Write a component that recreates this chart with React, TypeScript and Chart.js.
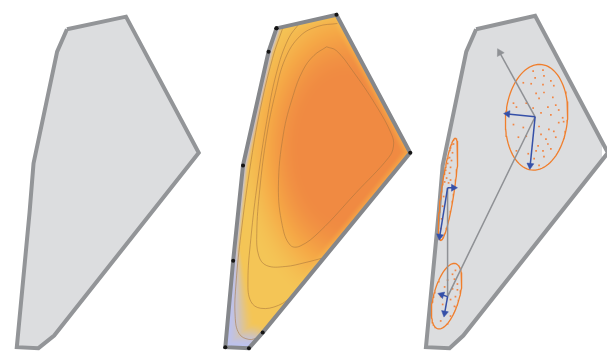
import React, { useEffect, useRef } from "react";
import { Chart, registerables } from "chart.js";

Chart.register(...registerables);

type Pt = [number, number];

// Region outline, shown three times (plain, with density, with clusters)
const outlinePlain: Pt[] = [[63, 25], [123, 12], [197, 152], [50, 340], [34, 353], [12, 352], [25, 213], [29, 163], [53, 48]];
const outlineDensity: Pt[] = [[276, 24], [337, 10], [412, 152], [262, 337], [248, 353], [224, 352], [232, 263], [242, 165], [268, 48]];
const outlineClusters: Pt[] = [[479, 25], [539, 11], [613, 152], [466, 340], [452, 353], [428, 352], [441, 213], [445, 165], [469, 48]];

// Left boundary of the density panel (where the density falls to zero)
const densityLowEdge: Pt[] = [[276, 24], [268, 48], [242, 165], [232, 263], [224, 352], [248, 353]];
// Upper and right boundary, where the density stays moderate
const densityRimEdge: Pt[] = [[276, 24], [337, 10], [412, 152], [262, 337], [248, 353]];
const densityPeak: Pt = [348, 148];
const densitySpread: Pt = [118, 178];

// Density contour lines
const contourInner: Pt[] = [[327, 43], [314, 52], [303, 67], [293, 93], [283, 133], [278, 187], [282, 227], [290, 247], [300, 248], [320, 233], [357, 193], [390, 157], [395, 145], [393, 133], [377, 103], [353, 67], [337, 47], [327, 43]];
const contourSecond: Pt[] = [[338, 19], [318, 22], [300, 32], [285, 55], [275, 90], [266, 135], [259, 190], [256, 235], [258, 258], [266, 268], [285, 269], [305, 265], [324, 260]];
const contourThird: Pt[] = [[300, 18], [288, 35], [276, 70], [266, 120], [257, 180], [250, 240], [247, 285], [250, 305], [260, 312], [278, 309], [293, 299]];
const contourOuter: Pt[] = [[283, 22], [272, 55], [258, 115], [248, 175], [240, 235], [235, 285], [234, 320], [238, 338], [248, 344], [258, 342]];

// Clusters: centers, semi-axes and tilt
const clusterCenters: Pt[] = [[540.5, 115.5], [450.5, 189.5], [449, 299.5]];
const clusterAxes: Pt[] = [[31.5, 54.5], [6.5, 53], [13, 34.7]];
const clusterTilts: number[] = [4.7, 8.1, 15];

// Sample points in each cluster
const samplesTop: Pt[] = [[537, 68], [547, 67], [539, 75], [548, 73], [527, 80], [535, 81], [547, 82], [555, 78], [558, 83], [540, 91], [548, 90], [557, 95], [543, 96], [530, 101], [517, 101], [520, 105], [537, 106], [552, 105], [560, 103], [563, 108], [545, 111], [555, 113], [567, 116], [517, 123], [527, 126], [543, 125], [563, 121], [568, 120], [553, 128], [558, 130], [522, 136], [530, 135], [545, 133], [550, 138], [560, 136], [542, 145], [552, 143], [540, 150], [547, 150], [555, 148], [520, 150], [532, 153], [538, 158], [548, 156], [543, 165]];
const samplesMiddle: Pt[] = [[456, 143], [453, 147], [455, 152], [452, 157], [454, 160], [450, 163], [453, 167], [448, 170], [452, 173], [449, 178], [453, 180], [447, 182], [451, 183], [446, 197], [445, 207], [444, 220], [443, 230]];
const samplesBottom: Pt[] = [[458, 273], [455, 277], [457, 282], [450, 283], [460, 287], [447, 290], [455, 292], [460, 293], [443, 300], [458, 300], [453, 303], [445, 308], [457, 310], [448, 317], [453, 320], [443, 325], [450, 328]];

// Links between cluster centers and the main direction arrow
const centerLinks: Pt[] = [[539, 115], [450, 300], [450, 188]];
const mainDirection: Pt[] = [[539, 115], [503, 49]];

// Principal axes of each cluster
const axisArrows: Pt[][] = [
  [[539, 115], [511, 112]],
  [[539, 115], [534, 165]],
  [[450, 188], [442, 238]],
  [[450, 188], [456, 188]],
  [[450, 300], [447, 317]],
  [[450, 300], [444, 298]],
];

const toXY = (pts: Pt[]) => pts.map(([x, y]) => ({ x, y }));
const closed = (pts: Pt[]) => toXY([...pts, pts[0]]);

function ellipse(c: Pt, ax: Pt, tiltDeg: number) {
  const t = (tiltDeg * Math.PI) / 180;
  const out: { x: number; y: number }[] = [];
  for (let i = 0; i <= 90; i++) {
    const th = (2 * Math.PI * i) / 90;
    const ex = ax[0] * Math.cos(th);
    const ey = ax[1] * Math.sin(th);
    out.push({ x: c[0] + ex * Math.cos(t) - ey * Math.sin(t), y: c[1] + ex * Math.sin(t) + ey * Math.cos(t) });
  }
  return out;
}

function arrowDataset(seg: Pt[], color: string, width: number, head: number, order: number) {
  const [a, b] = seg;
  const ang = (Math.atan2(b[0] - a[0], -(b[1] - a[1])) * 180) / Math.PI;
  return {
    data: toXY(seg),
    showLine: true,
    borderColor: color,
    borderWidth: width,
    tension: 0,
    pointRadius: [0, head],
    pointStyle: "triangle",
    pointRotation: [0, ang],
    pointBackgroundColor: color,
    pointBorderColor: color,
    pointBorderWidth: 0.5,
    clip: false,
    order,
  };
}

function segDist(px: number, py: number, a: Pt, b: Pt) {
  const dx = b[0] - a[0];
  const dy = b[1] - a[1];
  let t = ((px - a[0]) * dx + (py - a[1]) * dy) / (dx * dx + dy * dy);
  t = Math.max(0, Math.min(1, t));
  const qx = a[0] + t * dx - px;
  const qy = a[1] + t * dy - py;
  return Math.sqrt(qx * qx + qy * qy);
}

function chainDist(x: number, y: number, chain: Pt[]) {
  let d = Infinity;
  for (let k = 0; k < chain.length - 1; k++) d = Math.min(d, segDist(x, y, chain[k], chain[k + 1]));
  return d;
}

function inside(px: number, py: number, poly: Pt[]) {
  let c = false;
  for (let i = 0, j = poly.length - 1; i < poly.length; j = i++) {
    const [xi, yi] = poly[i];
    const [xj, yj] = poly[j];
    if (yi > py !== yj > py && px < ((xj - xi) * (py - yi)) / (yj - yi) + xi) c = !c;
  }
  return c;
}

const smooth = (e0: number, e1: number, v: number) => {
  const t = Math.max(0, Math.min(1, (v - e0) / (e1 - e0)));
  return t * t * (3 - 2 * t);
};
const mix = (a: number[], b: number[], t: number) => a.map((v, i) => v + (b[i] - v) * t);

// Paints the density field inside the middle outline
const densityField = {
  id: "densityField",
  beforeDatasetsDraw(chart: any) {
    const { ctx, scales } = chart;
    const xs = scales.x;
    const ys = scales.y;
    const poly: Pt[] = outlineDensity.map(([x, y]) => [xs.getPixelForValue(x), ys.getPixelForValue(y)]);
    const minX = Math.floor(Math.min(...poly.map((p) => p[0])));
    const maxX = Math.ceil(Math.max(...poly.map((p) => p[0])));
    const minY = Math.floor(Math.min(...poly.map((p) => p[1])));
    const maxY = Math.ceil(Math.max(...poly.map((p) => p[1])));
    const w = maxX - minX + 1;
    const h = maxY - minY + 1;
    const off = document.createElement("canvas");
    off.width = w;
    off.height = h;
    const octx = off.getContext("2d")!;
    const img = octx.createImageData(w, h);
    const lav = [188, 194, 240];
    const yel = [244, 197, 86];
    const mid = [245, 168, 70];
    const org = [240, 138, 66];
    for (let j = 0; j < h; j++) {
      for (let i = 0; i < w; i++) {
        const px = minX + i + 0.5;
        const py = minY + j + 0.5;
        if (!inside(px, py, poly)) continue;
        const x = xs.getValueForPixel(px);
        const y = ys.getValueForPixel(py);
        const dL = chainDist(x, y, densityLowEdge);
        const dR = chainDist(x, y, densityRimEdge);
        const r = Math.hypot((x - densityPeak[0]) / densitySpread[0], (y - densityPeak[1]) / densitySpread[1]);
        const o = Math.max(0, 1 - r);
        let f = smooth(0.04, 0.6, o);
        f *= 0.55 + 0.45 * smooth(0, 9, dR);
        const base = f < 0.5 ? mix(yel, mid, f * 2) : mix(mid, org, (f - 0.5) * 2);
        const wid = 6.5 + Math.max(0, y - 250) * 0.28;
        const u = smooth(0, 1, dL / wid);
        const col = mix(lav, base, u);
        const idx = (j * w + i) * 4;
        img.data[idx] = col[0];
        img.data[idx + 1] = col[1];
        img.data[idx + 2] = col[2];
        img.data[idx + 3] = 255;
      }
    }
    octx.putImageData(img, 0, 0);
    ctx.save();
    ctx.drawImage(off, minX, minY);
    ctx.restore();
  },
};

export default function App() {
  const ref = useRef<HTMLCanvasElement | null>(null);

  useEffect(() => {
    if (!ref.current) return;
    const outlineStyle = {
      showLine: true,
      tension: 0,
      borderWidth: 4,
      borderJoinStyle: "miter" as const,
      pointRadius: 0,
      clip: false,
    };
    const contourStyle = {
      showLine: true,
      tension: 0.4,
      borderColor: "rgba(165,115,60,0.55)",
      borderWidth: 1,
      pointRadius: 0,
      order: 15,
    };
    const dotStyle = {
      showLine: false,
      pointRadius: 1.2,
      pointStyle: "rect",
      pointBackgroundColor: "rgba(242,128,58,0.95)",
      pointBorderWidth: 0,
      order: 8,
    };
    const datasets: any[] = [
      { ...outlineStyle, data: closed(outlinePlain), fill: "shape", backgroundColor: "#dcdddf", borderColor: "#939598", order: 30 },
      { ...outlineStyle, data: closed(outlineClusters), fill: "shape", backgroundColor: "#dcdddf", borderColor: "#939598", order: 30 },
      { ...contourStyle, data: toXY(contourInner) },
      { ...contourStyle, data: toXY(contourSecond) },
      { ...contourStyle, data: toXY(contourThird) },
      { ...contourStyle, data: toXY(contourOuter) },
      {
        ...outlineStyle,
        data: closed(outlineDensity),
        fill: false,
        borderColor: "#85878b",
        pointRadius: 2,
        pointStyle: "circle",
        pointBackgroundColor: "#151515",
        pointBorderWidth: 0,
        order: 12,
      },
      { showLine: true, tension: 0, data: toXY(centerLinks), borderColor: "#8f9195", borderWidth: 1.5, pointRadius: 0, order: 6 },
      arrowDataset(mainDirection, "#8f9195", 1.5, 4.5, 6),
      ...clusterCenters.map((c, i) => ({
        showLine: true,
        tension: 0,
        data: ellipse(c, clusterAxes[i], clusterTilts[i]),
        borderColor: "#f07e2c",
        borderWidth: 1.3,
        pointRadius: 0,
        order: 9,
      })),
      { ...dotStyle, data: toXY(samplesTop) },
      { ...dotStyle, data: toXY(samplesMiddle) },
      { ...dotStyle, data: toXY(samplesBottom) },
      ...axisArrows.map((seg) => arrowDataset(seg, "#3550a8", 1.5, 4, 2)),
    ];

    const chart = new Chart(ref.current, {
      type: "scatter",
      data: { datasets },
      options: {
        animation: false,
        responsive: false,
        maintainAspectRatio: false,
        events: [],
        layout: { padding: 0 },
        plugins: { legend: { display: false }, tooltip: { enabled: false } },
        scales: {
          x: { type: "linear", min: 0, max: 607, display: false },
          y: { type: "linear", min: 0, max: 359, reverse: true, display: false },
        },
      },
      plugins: [densityField],
    });
    return () => chart.destroy();
  }, []);

  return (
    <div style={{ position: "absolute", left: 0, top: 0, width: 607, height: 359, background: "#ffffff" }}>
      <canvas ref={ref} width={607} height={359} style={{ display: "block" }} />
    </div>
  );
}
